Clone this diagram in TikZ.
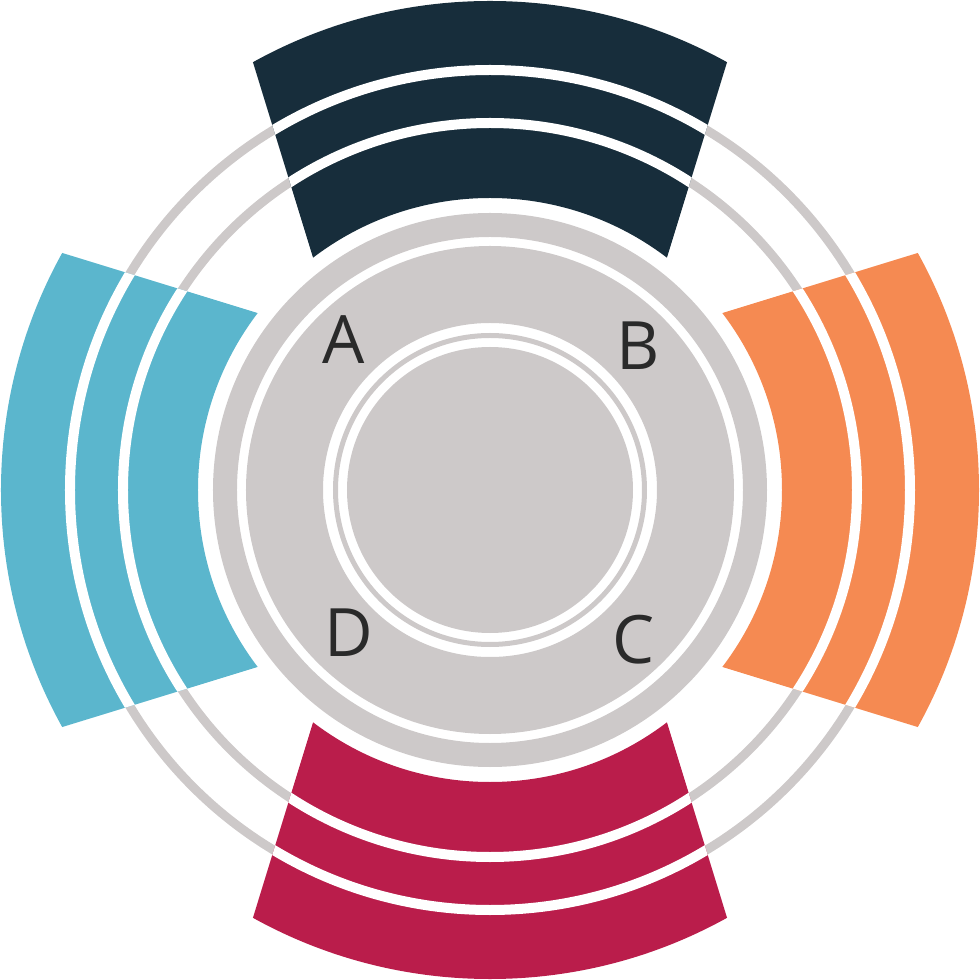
\documentclass[tikz,border=0pt]{standalone}
\usepackage{fontspec}
\setmainfont{Open Sans}
\definecolor{ringgray}{HTML}{CDC9C9}
\definecolor{navy}{HTML}{172D3B}
\definecolor{skyblue}{HTML}{5BB6CD}
\definecolor{tangerine}{HTML}{F58A52}
\definecolor{crimson}{HTML}{BA1D4B}
\definecolor{letter}{HTML}{2A2A2A}
\begin{document}
\begin{tikzpicture}[x=0.02cm,y=0.02cm,even odd rule,
  lbl/.style={inner sep=0pt,text=letter,font=\fontsize{38}{40}\selectfont}]
\useasboundingbox (-490,-490) rectangle (490,490);
% thin rings behind the bands
\foreach \r in {367,420} \fill[ringgray] (0,0) circle[radius=\r+4.5] circle[radius=\r-4.5];
% centre disc
\fill[ringgray] (0,0) circle[radius=277] circle[radius=253];
\fill[ringgray] (0,0) circle[radius=244] circle[radius=167];
\fill[ringgray] (0,0) circle[radius=157] circle[radius=152];
\fill[ringgray] (0,0) circle[radius=143];
% four bands
\foreach \a/\c in {0/navy,90/skyblue,180/crimson,270/tangerine}{
  \begin{scope}[rotate=\a]
    \clip (-105.5,0)--(105.5,0)--(290,600)--(-290,600)--cycle;
    \fill[\c] (0,0) circle[radius=489] circle[radius=292];
    \foreach \r in {367,420} \fill[white] (0,0) circle[radius=\r+5] circle[radius=\r-5];
  \end{scope}}
\node[lbl](A)at(-146,150){A};
\node[lbl](B)at(148,144){B};
\node[lbl](C)at(144,-150){C};
\node[lbl](D)at(-141,-143){D};
\end{tikzpicture}
\end{document}
